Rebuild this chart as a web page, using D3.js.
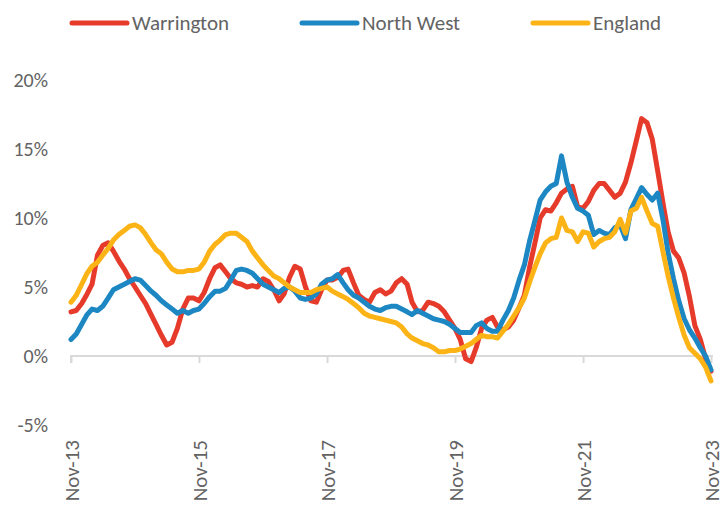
<script src="https://d3js.org/d3.v7.min.js"></script>

<style>
  body { margin: 0; }
</style>

<svg id="main_canvas" width=724 height=510></svg>

<script>
  "use strict";
  const WIDTH = 724;
  const HEIGHT = 510;

  // monthly values, Nov-13 .. Nov-23 (121 months)
  const warrington = [
    3.2, 3.3, 3.8, 4.5, 5.2, 7.3, 8.0, 8.2, 7.6, 6.9, 6.3, 5.6,
    5.0, 4.4, 3.8, 3.0, 2.3, 1.5, 0.8, 1.0, 2.0, 3.4, 4.2, 4.2,
    4.0, 4.6, 5.6, 6.4, 6.6, 6.1, 5.6, 5.3, 5.2, 5.0, 5.1, 5.0,
    5.6, 5.4, 4.8, 4.0, 4.5, 5.7, 6.5, 6.3, 5.0, 4.0, 3.9, 4.8,
    5.5, 5.5, 5.7, 6.2, 6.3, 5.3, 4.4, 4.1, 3.9, 4.6, 4.8, 4.5,
    4.7, 5.3, 5.6, 5.2, 3.9, 3.2, 3.3, 3.9, 3.8, 3.6, 3.2, 2.6,
    2.0, 1.2, -0.2, -0.4, 0.6, 2.0, 2.6, 2.8, 2.1, 1.9, 2.1, 2.6,
    3.5, 4.4, 6.5, 8.3, 10.0, 10.6, 10.5, 11.1, 11.8, 12.1, 12.3, 10.8,
    10.7, 11.2, 12.0, 12.5, 12.5, 12.0, 11.5, 11.8, 12.6, 14.0, 15.6, 17.2,
    16.9, 15.7, 13.4, 11.0, 9.0, 7.6, 7.1, 6.0, 4.3, 2.2, 1.2, -0.2,
    -1.1
  ];
  const northWest = [
    1.2, 1.6, 2.3, 3.0, 3.4, 3.3, 3.6, 4.2, 4.8, 5.0, 5.2, 5.4,
    5.6, 5.5, 5.1, 4.7, 4.4, 4.0, 3.7, 3.4, 3.1, 3.3, 3.1, 3.3,
    3.4, 3.8, 4.3, 4.7, 4.7, 4.9, 5.5, 6.2, 6.3, 6.2, 6.0, 5.6,
    5.2, 5.0, 4.8, 4.6, 4.9, 5.0, 4.7, 4.2, 4.1, 4.2, 4.5, 5.2,
    5.5, 5.6, 5.9, 5.3, 4.8, 4.4, 4.2, 3.9, 3.6, 3.4, 3.3, 3.5,
    3.6, 3.6, 3.4, 3.2, 3.0, 3.3, 3.1, 2.9, 2.7, 2.6, 2.5, 2.3,
    2.0, 1.7, 1.7, 1.7, 2.2, 2.4, 2.0, 1.8, 1.8, 2.6, 3.3, 4.2,
    5.5, 6.6, 8.4, 9.9, 11.3, 11.9, 12.3, 12.5, 14.5, 12.6, 11.5, 10.7,
    10.5, 10.2, 8.8, 9.1, 8.9, 8.8, 9.3, 9.5, 8.5, 10.6, 11.4, 12.2,
    11.7, 11.3, 11.8, 9.8, 7.5, 5.6, 4.0, 2.7, 1.9, 1.3, 0.6, 0.0,
    -1.0
  ];
  const england = [
    3.9, 4.4, 5.2, 6.0, 6.5, 6.8, 7.3, 7.8, 8.4, 8.8, 9.1, 9.4,
    9.5, 9.3, 8.8, 8.2, 7.7, 7.4, 6.8, 6.3, 6.1, 6.1, 6.2, 6.2,
    6.3, 6.8, 7.6, 8.1, 8.4, 8.8, 8.9, 8.9, 8.6, 8.3, 7.6, 7.1,
    6.6, 6.2, 5.8, 5.6, 5.3, 5.0, 4.8, 4.6, 4.6, 4.6, 4.8, 4.9,
    5.0, 4.7, 4.5, 4.3, 4.1, 3.8, 3.5, 3.1, 2.9, 2.8, 2.7, 2.6,
    2.5, 2.4, 2.1, 1.6, 1.3, 1.1, 0.9, 0.8, 0.6, 0.3, 0.3, 0.4,
    0.4, 0.5, 0.7, 0.9, 1.2, 1.5, 1.4, 1.4, 1.3, 1.8, 2.3, 2.9,
    3.5, 4.2, 5.4, 6.5, 7.4, 8.2, 8.5, 8.6, 10.0, 9.1, 9.0, 8.3,
    9.0, 8.9, 7.9, 8.3, 8.5, 8.6, 9.0, 9.9, 8.9, 10.5, 10.7, 11.5,
    10.5, 9.6, 9.4, 7.5, 5.8, 4.2, 2.8, 1.5, 0.6, 0.2, -0.2, -0.8,
    -1.8
  ];
  const seriesNames = ["Warrington", "North West", "England"];
  const yTicks = [-5, 0, 5, 10, 15, 20];

  const months = d3.range(warrington.length).map(i => new Date(2013, 10 + i, 1));
  const xTicks = d3.range(0, months.length, 24).map(i => months[i]);

  const series = [
    { name: seriesNames[0], values: warrington, color: "#e63a2b" },
    { name: seriesNames[1], values: northWest, color: "#1c87c2" },
    { name: seriesNames[2], values: england, color: "#fcb316" }
  ];

  const FONT = "Carlito, Calibri, Lato, sans-serif";
  const TEXT_COLOR = "#636363";

  const canvas = d3.select("#main_canvas")
    .attr("style", "display: block; background-color: white; font-family: " + FONT);

  const x = d3.scaleTime()
    .domain([months[0], months[months.length - 1]])
    .range([71, 711]);

  const y = d3.scaleLinear()
    .domain([-5, 20])
    .range([425, 80]);

  // y labels (no axis line in the original)
  canvas.append("g")
    .selectAll("text")
    .data(yTicks)
    .enter()
    .append("text")
    .attr("x", 48)
    .attr("y", d => y(d))
    .attr("dy", "0.35em")
    .attr("text-anchor", "end")
    .attr("font-size", 20)
    .attr("fill", TEXT_COLOR)
    .text(d => d + "%");

  // zero line with ticks
  const xAxis = canvas.append("g")
    .attr("transform", `translate(0, ${y(0)})`)
    .call(d3.axisBottom(x).tickValues(xTicks).tickSize(7).tickFormat(""));
  xAxis.select(".domain")
    .attr("d", `M${x(months[0])},7V0H${x(months[months.length - 1]) + 2}`)
    .attr("stroke", "#d9d9d9")
    .attr("stroke-width", 2);
  xAxis.selectAll(".tick line")
    .attr("stroke", "#d9d9d9")
    .attr("stroke-width", 2);

  // rotated month labels at the bottom
  const fmt = d3.timeFormat("%b-%y");
  canvas.append("g")
    .selectAll("text")
    .data(xTicks)
    .enter()
    .append("text")
    .attr("transform", d => `translate(${x(d) + 1}, 440) rotate(-90)`)
    .attr("dy", "0.35em")
    .attr("text-anchor", "end")
    .attr("font-size", 21)
    .attr("fill", TEXT_COLOR)
    .text(d => fmt(d));

  // lines
  const line = d3.line()
    .x((d, i) => x(months[i]))
    .y(d => y(d));

  canvas.append("g")
    .selectAll("path")
    .data(series)
    .enter()
    .append("path")
    .attr("d", d => line(d.values))
    .attr("fill", "none")
    .attr("stroke", d => d.color)
    .attr("stroke-width", 5)
    .attr("stroke-linejoin", "round")
    .attr("stroke-linecap", "round");

  // legend
  const legendX = [72, 302, 533];
  const legend = canvas.append("g")
    .selectAll("g")
    .data(series)
    .enter()
    .append("g")
    .attr("transform", (d, i) => `translate(${legendX[i]}, 23)`);

  legend.append("line")
    .attr("x1", 0)
    .attr("x2", 55)
    .attr("stroke", d => d.color)
    .attr("stroke-width", 5)
    .attr("stroke-linecap", "round");

  legend.append("text")
    .attr("x", 60)
    .attr("dy", "0.35em")
    .attr("font-size", 21)
    .attr("fill", TEXT_COLOR)
    .text(d => d.name);
</script>
